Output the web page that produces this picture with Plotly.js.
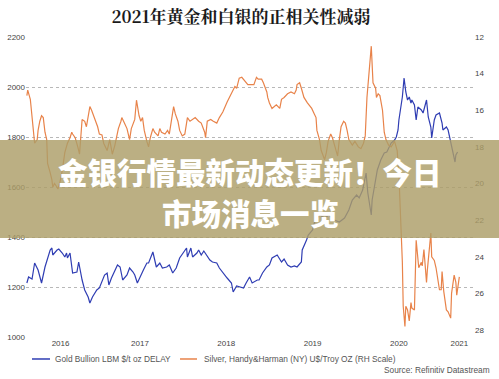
<!DOCTYPE html>
<html>
<head>
<meta charset="utf-8">
<script src="https://cdn.plot.ly/plotly-3.0.1.min.js"></script>
<style>html,body{margin:0;padding:0;background:#fff;}#chart{width:499px;height:379px;}</style>
</head>
<body>
<div id="chart"></div>
<script>
// Decimal-year time positions and values
var goldT = [2016.19,2016.21,2016.25,2016.28,2016.32,2016.36,2016.40,2016.46,2016.48,2016.49,2016.54,2016.56,2016.60,2016.63,2016.65,2016.66,2016.69,2016.72,2016.77,2016.79,2016.83,2016.86,2016.90,2016.92,2016.95,2017.00,2017.03,2017.06,2017.09,2017.12,2017.14,2017.17,2017.21,2017.24,2017.27,2017.30,2017.35,2017.38,2017.42,2017.44,2017.47,2017.52,2017.54,2017.58,2017.60,2017.65,2017.67,2017.69,2017.73,2017.76,2017.81,2017.84,2017.88,2017.92,2017.96,2018.01,2018.04,2018.05,2018.09,2018.11,2018.16,2018.18,2018.21,2018.24,2018.27,2018.31,2018.34,2018.39,2018.42,2018.46,2018.51,2018.56,2018.58,2018.62,2018.65,2018.70,2018.73,2018.77,2018.80,2018.86,2018.88,2018.92,2018.97,2019.00,2019.03,2019.09,2019.14,2019.17,2019.21,2019.25,2019.29,2019.32,2019.37,2019.38,2019.43,2019.45,2019.50,2019.52,2019.58,2019.64,2019.69,2019.75,2019.81,2019.87,2019.92,2019.96,2020.01,2020.04,2020.08,2020.10,2020.12,2020.14,2020.18,2020.19,2020.23,2020.25,2020.29,2020.33,2020.36,2020.41,2020.45,2020.47,2020.49,2020.50,2020.54,2020.56,2020.58,2020.60,2020.62,2020.64,2020.65,2020.68,2020.70,2020.72,2020.76,2020.78,2020.82,2020.84,2020.87,2020.88,2020.91,2020.93,2020.97,2021.00,2021.01,2021.05,2021.07,2021.09,2021.10,2021.13,2021.15,2021.16,2021.18];
var goldV = [1216,1240,1232,1296,1268,1216,1280,1348,1356,1328,1348,1352,1336,1320,1336,1316,1336,1256,1260,1300,1228,1188,1160,1136,1160,1188,1196,1220,1248,1256,1208,1236,1268,1288,1280,1228,1248,1276,1260,1248,1216,1256,1268,1296,1296,1340,1308,1280,1296,1276,1280,1288,1256,1276,1316,1340,1356,1320,1356,1320,1336,1348,1328,1344,1328,1308,1300,1296,1276,1256,1236,1216,1180,1204,1200,1196,1216,1240,1216,1228,1228,1256,1280,1288,1316,1328,1300,1312,1288,1280,1284,1280,1300,1348,1388,1408,1428,1456,1488,1476,1488,1468,1460,1476,1508,1548,1568,1556,1588,1616,1656,1576,1488,1548,1628,1668,1708,1736,1740,1776,1788,1800,1828,1868,1960,2036,1980,1948,1960,1936,1948,1928,1868,1920,1908,1896,1948,1880,1840,1796,1868,1888,1896,1856,1828,1840,1828,1796,1776,1720,1700,1728,1740];

var silverT = [2016.19,2016.20,2016.23,2016.25,2016.26,2016.28,2016.31,2016.32,2016.34,2016.36,2016.38,2016.40,2016.42,2016.43,2016.46,2016.48,2016.49,2016.51,2016.54,2016.55,2016.57,2016.60,2016.63,2016.66,2016.69,2016.71,2016.72,2016.75,2016.78,2016.80,2016.83,2016.86,2016.88,2016.92,2016.94,2016.98,2017.01,2017.03,2017.06,2017.08,2017.12,2017.15,2017.18,2017.21,2017.23,2017.25,2017.28,2017.29,2017.32,2017.35,2017.38,2017.40,2017.44,2017.46,2017.49,2017.51,2017.53,2017.55,2017.58,2017.60,2017.62,2017.65,2017.67,2017.71,2017.73,2017.75,2017.79,2017.82,2017.84,2017.87,2017.89,2017.91,2017.94,2017.96,2017.99,2018.02,2018.05,2018.08,2018.11,2018.14,2018.18,2018.21,2018.25,2018.26,2018.28,2018.32,2018.35,2018.39,2018.42,2018.46,2018.51,2018.56,2018.60,2018.62,2018.65,2018.68,2018.71,2018.75,2018.78,2018.82,2018.85,2018.87,2018.91,2018.93,2018.97,2018.98,2019.00,2019.03,2019.08,2019.12,2019.14,2019.17,2019.21,2019.25,2019.29,2019.31,2019.32,2019.35,2019.37,2019.40,2019.44,2019.49,2019.52,2019.54,2019.55,2019.58,2019.60,2019.64,2019.66,2019.68,2019.71,2019.73,2019.76,2019.79,2019.81,2019.83,2019.86,2019.88,2019.90,2019.92,2019.96,2019.99,2020.03,2020.06,2020.09,2020.11,2020.13,2020.16,2020.18,2020.20,2020.23,2020.24,2020.26,2020.28,2020.31,2020.33,2020.35,2020.38,2020.41,2020.45,2020.48,2020.50,2020.53,2020.54,2020.55,2020.57,2020.58,2020.60,2020.62,2020.64,2020.65,2020.68,2020.70,2020.71,2020.73,2020.76,2020.77,2020.79,2020.82,2020.83,2020.85,2020.87,2020.88,2020.91,2020.93,2020.97,2020.99,2021.00,2021.02,2021.05,2021.07,2021.10,2021.11,2021.14,2021.16,2021.17,2021.20];
var silverV = [15.2,14.9,15.4,16.4,17.2,17.8,17.6,17.1,16.6,16.3,16.4,17.2,17.6,18.9,19.4,19.8,20.2,20.0,20.2,20.3,20.0,19.3,18.3,17.8,17.5,17.2,17.3,17.5,18.0,18.4,16.5,16.6,16.9,15.8,16.0,16.5,16.9,17.3,17.35,17.8,18.2,17.6,18.4,17.9,17.5,17.0,16.6,16.4,16.7,17.0,17.6,17.0,16.5,15.45,16.3,16.6,16.4,17.1,17.7,18.0,17.5,17.0,17.2,17.4,17.0,17.2,17.3,17.1,17.3,16.4,15.8,16.2,16.6,17.1,17.4,17.3,16.4,16.6,16.5,16.4,16.6,16.7,17.2,17.5,16.6,16.5,16.6,16.7,16.4,16.1,15.55,15.1,14.7,14.8,14.25,14.2,14.4,14.6,14.6,14.6,14.2,14.3,14.3,14.5,15.0,15.3,15.6,15.9,15.7,15.9,15.4,15.3,15.1,15.0,15.1,14.9,14.6,14.5,14.8,15.3,15.6,15.9,16.2,16.4,17.1,17.6,18.2,18.7,18.3,17.7,17.3,17.5,18.0,18.5,17.6,16.9,16.6,16.7,17.1,17.6,17.9,17.7,18.0,18.1,17.8,17.4,15.3,13.5,12.5,14.5,14.8,15.3,15.1,15.2,16.0,17.2,17.6,17.9,18.0,17.7,18.2,19.5,22.5,24.3,26.7,27.8,26.7,26.9,27.5,26.5,26.8,26.9,23.1,23.6,24.6,24.3,24.5,23.6,25.4,24.7,23.6,22.7,24.0,24.2,24.6,25.8,25.8,24.8,25.9,26.9,27.0,27.35,26.0,25.0,25.4,26.1,25.1];

var yearTickPos = [2016.58, 2017.5, 2018.5, 2019.5, 2020.5, 2021.2];
var yearTickText = ['2016','2017','2018','2019','2020','2021'];
var leftTicks = [1000,1200,1400,1600,1800,2000,2200];
var rightTicks = [12,14,16,18,20,22,24,26,28];

var goldName = 'Gold Bullion LBM $/t oz DELAY';
var silverName = 'Silver, Handy&amp;Harman (NY) U$/Troy OZ (RH Scale)';
var titleText = '2021年黄金和白银的正相关性减弱';
var bannerLine1 = '金银行情最新动态更新！今日';
var bannerLine2 = '市场消息一览';
var sourceText = 'Source: Refinitiv Datastream';

var goldColor = '#2f3db3';
var silverColor = '#e8834a';
var tickFont = {family: 'Liberation Sans, Arial, sans-serif', size: 8, color: '#444'};

var traces = [
  {x: goldT, y: goldV, type: 'scatter', mode: 'lines', name: 'gold',
   line: {color: goldColor, width: 1.2}, yaxis: 'y', hoverinfo: 'skip'},
  {x: silverT, y: silverV, type: 'scatter', mode: 'lines', name: 'silver',
   line: {color: silverColor, width: 1.2}, yaxis: 'y2', hoverinfo: 'skip'}
];

var layout = {
  width: 499, height: 379,
  margin: {l: 26, r: 25, t: 37, b: 42, pad: 0},
  paper_bgcolor: '#fff', plot_bgcolor: '#fff',
  showlegend: false,
  title: {text: '<b>' + titleText + '</b>', x: 0.483, xref: 'container', y: 0.955, yref: 'container',
          xanchor: 'center', yanchor: 'middle',
          font: {family: "'Noto Serif CJK SC', 'Liberation Serif', 'Noto Sans CJK SC', serif", size: 17, color: '#1a1a1a'}},
  xaxis: {type: 'linear', range: [2016.18, 2021.37], tickmode: 'array', tickvals: yearTickPos, ticktext: yearTickText,
          showgrid: false, zeroline: false, showline: false, ticks: '', tickfont: tickFont, fixedrange: true},
  yaxis: {range: [1000, 2200], tickmode: 'array', tickvals: leftTicks, showgrid: true, gridcolor: '#b8b8b8',
          griddash: 'dot', gridwidth: 1, zeroline: false, showline: false, ticks: '', tickfont: tickFont, fixedrange: true},
  yaxis2: {range: [28.38, 12], overlaying: 'y', side: 'right', tickmode: 'array', tickvals: rightTicks,
           showgrid: false, zeroline: false, showline: false, ticks: '', tickfont: tickFont, fixedrange: true},
  shapes: [
    {type: 'rect', xref: 'paper', yref: 'paper', x0: -0.06, x1: 1.06, y0: 0.33, y1: 0.6567,
     fillcolor: 'rgba(172,158,104,0.82)', line: {width: 0}, layer: 'above'},
    {type: 'line', xref: 'paper', yref: 'paper', x0: 0.0134, x1: 0.0536, y0: -0.0733, y1: -0.0733,
     line: {color: goldColor, width: 1.5}},
    {type: 'line', xref: 'paper', yref: 'paper', x0: 0.3438, x1: 0.3817, y0: -0.0733, y1: -0.0733,
     line: {color: silverColor, width: 1.5}}
  ],
  annotations: [
    {text: goldName, xref: 'paper', yref: 'paper', x: 0.0603, y: -0.0733, xanchor: 'left', yanchor: 'middle',
     showarrow: false, font: {family: 'Liberation Sans, Arial, sans-serif', size: 8.3, color: '#555'}},
    {text: silverName, xref: 'paper', yref: 'paper', x: 0.3929, y: -0.0733, xanchor: 'left', yanchor: 'middle',
     showarrow: false, font: {family: 'Liberation Sans, Arial, sans-serif', size: 8.3, color: '#555'}},
    {text: sourceText, xref: 'paper', yref: 'paper', x: 1.0402, y: -0.11, xanchor: 'right', yanchor: 'middle',
     showarrow: false, font: {family: 'Liberation Sans, Arial, sans-serif', size: 8.3, color: '#555'}},
    {text: bannerLine1, xref: 'paper', yref: 'paper', x: 0.5, y: 0.5533, xanchor: 'center', yanchor: 'middle',
     showarrow: false, font: {family: "'Noto Sans CJK SC', sans-serif", size: 29.5, color: '#ffffff', weight: 900}},
    {text: bannerLine2, xref: 'paper', yref: 'paper', x: 0.502, y: 0.4167, xanchor: 'center', yanchor: 'middle',
     showarrow: false, font: {family: "'Noto Sans CJK SC', sans-serif", size: 29.5, color: '#ffffff', weight: 900}}
  ]
};

Plotly.newPlot('chart', traces, layout, {staticPlot: true, displayModeBar: false});
</script>
</body>
</html>
